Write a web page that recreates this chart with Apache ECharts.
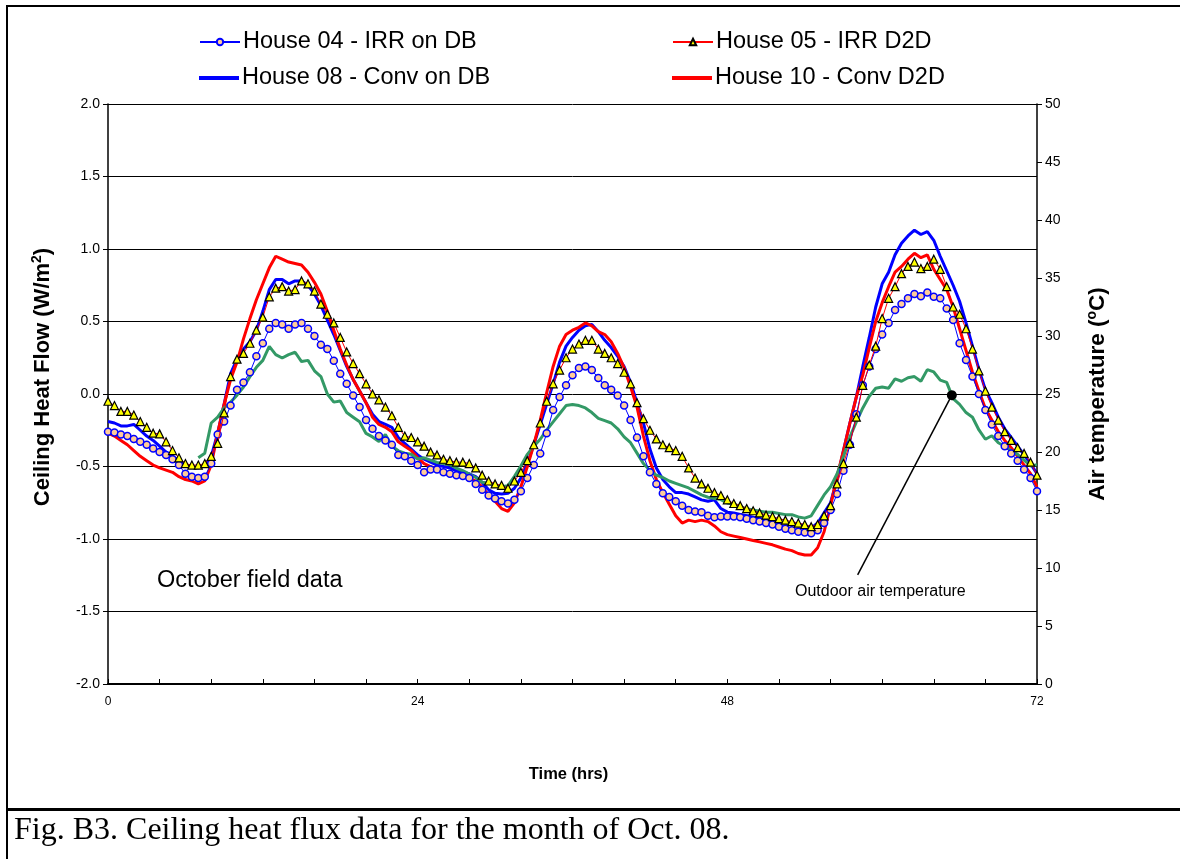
<!DOCTYPE html>
<html>
<head>
<meta charset="utf-8">
<title>Ceiling heat flux – October</title>
<script src="https://cdn.jsdelivr.net/npm/echarts@6/dist/echarts.min.js"></script>
<style>
  html, body { margin: 0; padding: 0; background: #ffffff; }
  #chart { width: 1180px; height: 859px; }
</style>
</head>
<body>
<div id="chart"></div>
<script>
// Sampling times (hours) for the house heat-flux records, every half hour
const hours = [];
for (let h = 0; h <= 72; h += 0.5) hours.push(h);

// Outdoor air temperature record starts a little later
const outdoorHours = [];
for (let h = 7; h <= 72; h += 0.5) outdoorHours.push(h);

const xTicks = [0, 24, 48, 72];

// Ceiling heat flow, W/m2
const house04 = [
  -0.26, -0.265, -0.28, -0.29, -0.31, -0.33, -0.35, -0.375, -0.40, -0.42, -0.45, -0.49,
  -0.55, -0.57, -0.58, -0.57, -0.48, -0.28, -0.19, -0.08, 0.03, 0.08, 0.15, 0.26,
  0.35, 0.45, 0.49, 0.48, 0.45, 0.48, 0.49, 0.45, 0.40, 0.34, 0.31, 0.23,
  0.14, 0.07, -0.01, -0.09, -0.18, -0.24, -0.29, -0.32, -0.35, -0.42, -0.43, -0.46,
  -0.49, -0.54, -0.52, -0.52, -0.54, -0.55, -0.56, -0.565, -0.58, -0.62, -0.66, -0.70,
  -0.72, -0.74, -0.755, -0.73, -0.67, -0.58, -0.49, -0.41, -0.27, -0.11, -0.02, 0.06,
  0.13, 0.18, 0.19, 0.165, 0.11, 0.06, 0.03, -0.01, -0.08, -0.18, -0.30, -0.43,
  -0.54, -0.62, -0.685, -0.71, -0.74, -0.77, -0.80, -0.81, -0.815, -0.84, -0.85, -0.845,
  -0.845, -0.845, -0.85, -0.86, -0.87, -0.88, -0.89, -0.90, -0.915, -0.93, -0.94, -0.95,
  -0.955, -0.96, -0.94, -0.89, -0.80, -0.69, -0.53, -0.35, -0.14, 0.06, 0.19, 0.31,
  0.41, 0.49, 0.58, 0.62, 0.66, 0.69, 0.675, 0.70, 0.67, 0.66, 0.59, 0.51,
  0.35, 0.235, 0.12, 0.00, -0.11, -0.21, -0.29, -0.36, -0.41, -0.46, -0.52, -0.58,
  -0.67
];

const house05 = [
  -0.05, -0.08, -0.12, -0.12, -0.145, -0.19, -0.23, -0.27, -0.275, -0.33, -0.39, -0.44,
  -0.48, -0.49, -0.49, -0.48, -0.43, -0.34, -0.13, 0.12, 0.24, 0.28, 0.35, 0.44,
  0.53, 0.67, 0.73, 0.74, 0.71, 0.72, 0.78, 0.76, 0.71, 0.62, 0.55, 0.49,
  0.39, 0.29, 0.21, 0.14, 0.07, 0.00, -0.04, -0.09, -0.15, -0.23, -0.29, -0.30,
  -0.33, -0.36, -0.40, -0.42, -0.45, -0.46, -0.47, -0.47, -0.48, -0.51, -0.56, -0.60,
  -0.62, -0.63, -0.65, -0.60, -0.54, -0.46, -0.35, -0.20, -0.05, 0.07, 0.165, 0.25,
  0.31, 0.345, 0.37, 0.37, 0.31, 0.28, 0.25, 0.21, 0.15, 0.07, -0.06, -0.17,
  -0.25, -0.31, -0.35, -0.37, -0.39, -0.43, -0.51, -0.58, -0.62, -0.65, -0.68, -0.70,
  -0.73, -0.755, -0.77, -0.79, -0.805, -0.82, -0.835, -0.845, -0.86, -0.87, -0.88, -0.89,
  -0.90, -0.915, -0.90, -0.84, -0.77, -0.62, -0.48, -0.34, -0.16, 0.06, 0.20, 0.33,
  0.52, 0.66, 0.74, 0.83, 0.88, 0.91, 0.865, 0.88, 0.93, 0.86, 0.74, 0.60,
  0.55, 0.45, 0.31, 0.16, 0.02, -0.09, -0.18, -0.26, -0.32, -0.37, -0.41, -0.47,
  -0.56
];

const house08 = [
  -0.19, -0.20, -0.22, -0.22, -0.21, -0.25, -0.29, -0.32, -0.36, -0.40, -0.43, -0.46,
  -0.49, -0.50, -0.51, -0.49, -0.43, -0.27, -0.07, 0.14, 0.24, 0.31, 0.36, 0.44,
  0.57, 0.72, 0.79, 0.79, 0.76, 0.78, 0.78, 0.75, 0.69, 0.61, 0.51, 0.41,
  0.30, 0.19, 0.10, 0.02, -0.06, -0.14, -0.19, -0.21, -0.23, -0.30, -0.34, -0.38,
  -0.42, -0.45, -0.47, -0.49, -0.50, -0.51, -0.53, -0.54, -0.55, -0.57, -0.61, -0.66,
  -0.685, -0.69, -0.685, -0.65, -0.58, -0.48, -0.35, -0.21, -0.07, 0.07, 0.22, 0.33,
  0.39, 0.44, 0.47, 0.48, 0.43, 0.37, 0.32, 0.26, 0.19, 0.08, -0.06, -0.20,
  -0.38, -0.51, -0.59, -0.64, -0.68, -0.68, -0.69, -0.71, -0.73, -0.74, -0.73, -0.79,
  -0.815, -0.82, -0.83, -0.84, -0.85, -0.86, -0.87, -0.875, -0.885, -0.89, -0.895, -0.90,
  -0.91, -0.925, -0.89, -0.82, -0.75, -0.59, -0.39, -0.20, -0.02, 0.19, 0.39, 0.60,
  0.76, 0.84, 0.96, 1.04, 1.09, 1.13, 1.10, 1.12, 1.06, 0.95, 0.85, 0.75,
  0.64, 0.49, 0.33, 0.17, 0.03, -0.06, -0.16, -0.24, -0.30, -0.36, -0.42, -0.48,
  -0.55
];

const house10 = [
  -0.27, -0.29, -0.32, -0.35, -0.39, -0.43, -0.46, -0.49, -0.51, -0.525, -0.54, -0.57,
  -0.59, -0.60, -0.62, -0.60, -0.49, -0.27, -0.07, 0.10, 0.22, 0.38, 0.52, 0.65,
  0.76, 0.87, 0.95, 0.93, 0.91, 0.90, 0.89, 0.84, 0.77, 0.69, 0.57, 0.44,
  0.31, 0.20, 0.10, 0.02, -0.06, -0.16, -0.21, -0.23, -0.26, -0.33, -0.36, -0.39,
  -0.44, -0.48, -0.50, -0.52, -0.54, -0.55, -0.56, -0.57, -0.58, -0.60, -0.64, -0.70,
  -0.74, -0.79, -0.81, -0.75, -0.64, -0.50, -0.35, -0.18, 0.01, 0.19, 0.33, 0.41,
  0.44, 0.46, 0.49, 0.47, 0.43, 0.41, 0.36, 0.28, 0.18, 0.05, -0.09, -0.29,
  -0.46, -0.59, -0.68, -0.76, -0.84, -0.89, -0.87, -0.88, -0.87, -0.88, -0.91, -0.95,
  -0.97, -0.98, -0.99, -1.00, -1.01, -1.02, -1.03, -1.04, -1.055, -1.07, -1.08, -1.10,
  -1.11, -1.11, -1.06, -0.95, -0.77, -0.57, -0.39, -0.20, -0.02, 0.13, 0.32, 0.50,
  0.63, 0.74, 0.84, 0.88, 0.93, 0.97, 0.94, 0.96, 0.86, 0.79, 0.72, 0.60,
  0.45, 0.30, 0.15, 0.02, -0.10, -0.18, -0.26, -0.32, -0.37, -0.43, -0.49, -0.55,
  -0.64
];

// Outdoor air temperature, °C (right axis)
const outdoorTemp = [
  19.5, 19.9, 22.5, 23.0, 23.8, 24.3, 24.9, 25.6, 26.5, 27.3, 27.9, 29.1,
  28.4, 28.1, 28.4, 28.6, 27.8, 27.9, 27.0, 26.5, 25.0, 24.3, 24.4, 23.4,
  23.0, 22.6, 21.6, 21.3, 20.9, 21.5, 20.5, 20.1, 19.9, 19.8,
  19.4, 19.5, 19.3, 19.1, 19.0, 18.9, 18.6, 18.4, 18.1, 17.8, 17.4, 17.3,
  17.1, 17.0, 17.1, 17.9, 18.8, 19.8, 20.5, 21.1, 21.9, 22.6, 23.3, 24.0,
  24.1, 24.0, 23.8, 23.4, 22.9, 22.7, 22.5, 22.0, 21.3, 20.8, 19.9, 19.0,
  18.4, 18.0, 17.8, 17.5, 17.3, 17.1, 16.9, 16.6, 16.3, 16.1, 16.0, 15.9,
  15.6, 15.5, 15.3, 15.1, 15.0, 14.9, 14.8, 14.8, 14.7, 14.6, 14.6, 14.4,
  14.3, 14.5, 15.4, 16.3, 17.0, 18.1, 19.6, 21.3, 22.6, 23.8, 24.8, 25.5,
  25.6, 25.5, 26.3, 26.1, 26.4, 26.5, 26.1, 27.1, 26.9, 26.2, 26.0, 24.6,
  24.1, 23.4, 23.0, 21.9, 21.1, 21.4, 20.8, 20.5, 20.1, 19.8, 19.3, 18.8,
  18.9
];

// Callout: point on the temperature curve and the end of its leader line
const calloutPoint = [65.4, 24.9];
const calloutEnd = [58.1, 9.4];

const SANS = 'Arial, "Liberation Sans", Helvetica, sans-serif';
const SERIF = '"Times New Roman", "Liberation Serif", serif';

function pairs(xs, ys) {
  return xs.map((x, i) => [x, ys[i]]);
}

// one legend entry per block so each icon can get its own size
function legendEntry(name, left, top, opts) {
  return Object.assign({
    data: [name], orient: 'horizontal', left: left, top: top,
    itemWidth: 40, itemHeight: 8, itemGap: 0,
    textStyle: { fontFamily: SANS, fontSize: 23.5, color: '#000', padding: [0, 0, 0, -2] }
  }, opts || {});
}

const chart = echarts.init(document.getElementById('chart'), null, { renderer: 'canvas' });

const option = {
  animation: false,
  backgroundColor: '#ffffff',
  textStyle: { fontFamily: SANS, color: '#000' },
  grid: { left: 108, right: 143, top: 104, bottom: 175, containLabel: false },
  legend: [
    legendEntry('House 04 - IRR on DB', 194, 25),
    legendEntry('House 05 - IRR D2D', 667, 25),
    legendEntry('House 08 - Conv on DB', 194, 61, {
      data: [{ name: 'House 08 - Conv on DB', icon: 'rect' }], itemHeight: 4
    }),
    legendEntry('House 10 - Conv D2D', 667, 61, {
      data: [{ name: 'House 10 - Conv D2D', icon: 'rect' }], itemHeight: 4
    })
  ],
  xAxis: {
    type: 'value', min: 0, max: 72, interval: 24,
    name: 'Time (hrs)', nameLocation: 'middle', nameGap: 82,
    nameTextStyle: { fontFamily: SANS, fontSize: 16.5, fontWeight: 'bold', color: '#000', padding: [0, 8, 0, 0] },
    axisLine: { onZero: false, lineStyle: { color: '#000', width: 2 } },
    axisTick: { show: true, inside: true, length: 5, lineStyle: { color: '#000' } },
    minorTick: { show: true, splitNumber: 6, length: 5, lineStyle: { color: '#000' } },
    axisLabel: {
      fontFamily: SANS, fontSize: 12, color: '#000', margin: 12,
      customValues: xTicks
    },
    splitLine: { show: false }
  },
  yAxis: [
    {
      type: 'value', min: -2, max: 2, interval: 0.5, position: 'left',
      name: '{n|Ceiling Heat Flow (W/m}{s|2}{n|)}',
      nameLocation: 'middle', nameGap: 52, nameRotate: 90,
      nameTextStyle: {
        padding: [0, 0, 0, 34],
        rich: {
          n: { fontFamily: SANS, fontSize: 22, fontWeight: 'bold', color: '#000', lineHeight: 26 },
          s: { fontFamily: SANS, fontSize: 14, fontWeight: 'bold', color: '#000', verticalAlign: 'top', lineHeight: 26, padding: [0, 0, 10, 0] }
        }
      },
      axisLine: { show: true, onZero: false, lineStyle: { color: '#000', width: 1.5 } },
      axisTick: { show: true, length: 5, lineStyle: { color: '#000' } },
      axisLabel: {
        fontFamily: SANS, fontSize: 14, color: '#000', margin: 8,
        formatter: v => v.toFixed(1)
      },
      splitLine: { show: true, lineStyle: { color: '#000', width: 1 } }
    },
    {
      type: 'value', min: 0, max: 50, interval: 5, position: 'right',
      name: '{n|Air temperature (}{s|o}{n|C)}',
      nameLocation: 'middle', nameGap: 48, nameRotate: 90,
      nameTextStyle: {
        rich: {
          n: { fontFamily: SANS, fontSize: 22.5, fontWeight: 'bold', color: '#000', lineHeight: 26 },
          s: { fontFamily: SANS, fontSize: 14, fontWeight: 'bold', color: '#000', verticalAlign: 'top', lineHeight: 26, padding: [0, 0, 10, 0] }
        }
      },
      axisLine: { show: true, onZero: false, lineStyle: { color: '#000', width: 1.5 } },
      axisTick: { show: true, length: 5, lineStyle: { color: '#000' } },
      axisLabel: { fontFamily: SANS, fontSize: 14, color: '#000', margin: 8 },
      splitLine: { show: false }
    }
  ],
  series: [
    {
      name: 'House 08 - Conv on DB', type: 'line', yAxisIndex: 0,
      data: pairs(hours, house08), showSymbol: false, symbol: 'none',
      lineStyle: { color: '#0000ff', width: 3 }, itemStyle: { color: '#0000ff' }, z: 2
    },
    {
      name: 'House 10 - Conv D2D', type: 'line', yAxisIndex: 0,
      data: pairs(hours, house10), showSymbol: false, symbol: 'none',
      lineStyle: { color: '#ff0000', width: 3 }, itemStyle: { color: '#ff0000' }, z: 2
    },
    {
      name: 'Outdoor air temperature', type: 'line', yAxisIndex: 1,
      data: pairs(outdoorHours, outdoorTemp), showSymbol: false, symbol: 'none',
      lineStyle: { color: '#339966', width: 3 }, itemStyle: { color: '#339966' }, z: 3,
      markLine: {
        silent: true, animation: false,
        label: { show: false },
        lineStyle: { color: '#000', width: 1.5, type: 'solid' },
        data: [[
          { coord: calloutPoint, symbol: 'circle', symbolSize: 10 },
          { coord: calloutEnd, symbol: 'none' }
        ]]
      }
    },
    {
      name: 'House 04 - IRR on DB', type: 'line', yAxisIndex: 0,
      data: pairs(hours, house04), showSymbol: true, symbol: 'circle', symbolSize: 7,
      lineStyle: { color: '#0000ff', width: 1 },
      itemStyle: { color: '#ffcc99', borderColor: '#0000ff', borderWidth: 1.5 }, z: 4
    },
    {
      name: 'House 05 - IRR D2D', type: 'line', yAxisIndex: 0,
      data: pairs(hours, house05), showSymbol: true, symbol: 'triangle', symbolSize: 8,
      lineStyle: { color: '#ff0000', width: 1 },
      itemStyle: { color: '#ffff00', borderColor: '#000000', borderWidth: 1.2 }, z: 5
    }
  ],
  graphic: [
    // outer frame and caption separator
    { type: 'rect', shape: { x: 7, y: 5, width: 1180, height: 2 }, style: { fill: '#000' }, silent: true },
    { type: 'rect', shape: { x: 6, y: 5, width: 2, height: 854 }, style: { fill: '#000' }, silent: true },
    { type: 'rect', shape: { x: 7, y: 808, width: 1180, height: 3 }, style: { fill: '#000' }, silent: true },
    {
      type: 'text', left: 157, top: 569, silent: true,
      style: { text: 'October field data', font: '23.5px ' + SANS, fill: '#000' }
    },
    {
      type: 'text', left: 795, top: 584, silent: true,
      style: { text: 'Outdoor air temperature', font: '16px ' + SANS, fill: '#000' }
    },
    {
      type: 'text', left: 14, top: 815, silent: true,
      style: { text: 'Fig. B3. Ceiling heat flux data for the month of Oct. 08.', font: '32px ' + SERIF, fill: '#000' }
    }
  ]
};

chart.setOption(option);
</script>
</body>
</html>
